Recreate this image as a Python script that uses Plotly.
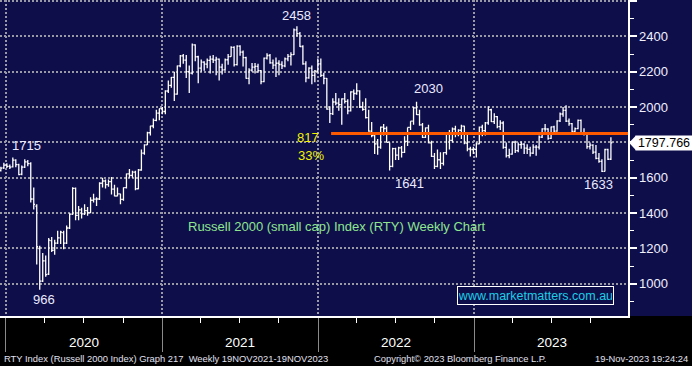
import pandas as pd
import plotly.graph_objects as go

# ---------------- data ----------------
opens = [1640,1656,1672,1665,1662,1700,1675,1620,1660,1690,
         1680,1480,1440,1200,1015,1130,1055,1245,1190,1230,
         1260,1290,1230,1316,1394,1540,1387,1419,1396,1414,
         1403,1473,1479,1480,1569,1582,1561,1578,1536,1497,
         1509,1478,1544,1622,1614,1632,1538,1644,1740,1786,
         1855,1893,1925,1966,1991,1975,2091,2123,2168,2073,
         2233,2290,2266,2201,2192,2352,2285,2221,2254,2243,
         2264,2271,2266,2271,2226,2211,2268,2286,2338,2240,
         2345,2311,2280,2163,2209,2226,2230,2206,2144,2277,
         2292,2250,2237,2248,2241,2233,2273,2287,2297,2437,
         2416,2343,2245,2165,2221,2180,2203,2245,2180,2162,
         1988,1963,2029,2023,2014,2046,2032,1979,2086,2077,
         2092,2001,1987,1940,1864,1839,1792,1773,1887,1879,
         1800,1665,1765,1728,1769,1744,1806,1885,1921,1996,
         1957,1899,1829,1883,1798,1721,1665,1702,1682,1742,
         1846,1812,1876,1849,1869,1892,1796,1763,1760,1761,
         1792,1887,1867,1911,1985,1918,1946,1890,1910,1772,
         1725,1734,1802,1754,1788,1791,1768,1761,1740,1774,
         1773,1830,1877,1876,1823,1888,1864,1922,1961,1982,
         1921,1906,1863,1878,1925,1848,1847,1776,1785,1745,
         1710,1693,1636,1760,1705]
highs = [1662,1685,1683,1675,1715,1705,1680,1670,1705,1700,
         1688,1545,1450,1215,1175,1160,1260,1265,1250,1300,
         1300,1300,1330,1400,1547,1545,1440,1430,1450,1435,
         1490,1510,1490,1575,1600,1590,1590,1605,1560,1545,
         1510,1545,1625,1650,1640,1640,1650,1760,1790,1860,
         1895,1935,1985,1992,2000,2095,2150,2170,2200,2235,
         2295,2300,2295,2235,2360,2355,2290,2270,2260,2275,
         2290,2295,2285,2275,2245,2275,2300,2345,2345,2350,
         2350,2320,2285,2220,2250,2250,2245,2210,2280,2305,
         2300,2270,2280,2265,2260,2280,2300,2310,2445,2458,
         2425,2350,2260,2225,2235,2210,2275,2275,2195,2165,
         2005,2050,2080,2050,2050,2080,2045,2090,2100,2135,
         2095,2030,2050,1985,1915,1850,1820,1890,1905,1890,
         1800,1770,1770,1775,1780,1835,1885,1920,2000,2030,
         1985,1910,1885,1900,1810,1740,1760,1745,1745,1850,
         1870,1885,1895,1875,1900,1895,1845,1775,1775,1800,
         1890,1900,1915,2005,1990,1965,1950,1925,1920,1800,
         1765,1805,1810,1800,1805,1795,1790,1775,1790,1785,
         1840,1880,1905,1880,1890,1895,1925,1970,2000,2010,
         1935,1910,1885,1930,1930,1880,1850,1800,1790,1785,
         1740,1705,1765,1765,1830]
lows = [1635,1650,1655,1650,1658,1660,1614,1615,1655,1665,
        1460,1420,1110,966,1010,1040,1050,1180,1165,1225,
        1225,1195,1225,1310,1390,1360,1360,1370,1390,1385,
        1400,1460,1440,1475,1545,1540,1550,1505,1495,1495,
        1450,1470,1540,1600,1600,1530,1535,1640,1730,1785,
        1840,1880,1920,1925,1960,1960,2080,2110,2035,2070,
        2225,2245,2165,2080,2185,2260,2135,2200,2205,2220,
        2190,2250,2180,2150,2185,2205,2240,2285,2230,2235,
        2290,2230,2160,2130,2200,2190,2195,2130,2140,2270,
        2245,2215,2170,2180,2215,2225,2260,2235,2295,2400,
        2340,2240,2140,2160,2130,2140,2195,2170,2130,1985,
        1910,1955,2010,1980,1900,2020,1960,1975,2040,2070,
        1995,1980,1935,1860,1830,1735,1730,1765,1840,1800,
        1641,1660,1700,1700,1715,1740,1780,1870,1900,1955,
        1895,1825,1825,1795,1718,1650,1660,1650,1670,1730,
        1760,1800,1830,1835,1820,1790,1750,1720,1735,1715,
        1790,1835,1840,1900,1915,1905,1880,1870,1765,1715,
        1710,1730,1740,1745,1765,1735,1735,1720,1735,1725,
        1760,1825,1860,1815,1820,1845,1860,1915,1945,1915,
        1895,1855,1845,1875,1845,1840,1765,1760,1735,1705,
        1685,1633,1635,1700,1700]
closes = [1655,1672,1665,1660,1700,1675,1618,1660,1690,1680,
          1480,1450,1210,1015,1130,1052,1247,1190,1230,1260,
          1293,1230,1316,1394,1540,1387,1419,1396,1414,1403,
          1473,1479,1480,1569,1582,1561,1578,1536,1497,1509,
          1478,1544,1622,1614,1632,1538,1644,1740,1786,1855,
          1893,1925,1966,1991,1975,2091,2123,2168,2073,2233,
          2290,2266,2201,2192,2352,2285,2221,2254,2243,2264,
          2271,2266,2271,2226,2211,2268,2286,2338,2240,2345,
          2311,2280,2163,2209,2226,2230,2206,2144,2277,2292,
          2250,2237,2248,2241,2233,2273,2287,2297,2437,2416,
          2343,2245,2165,2221,2180,2203,2245,2180,2162,1988,
          1963,2029,2023,2014,2046,2032,1979,2086,2077,2092,
          2001,1987,1940,1864,1839,1792,1773,1887,1879,1800,
          1665,1765,1728,1769,1744,1806,1885,1921,1996,1957,
          1899,1829,1883,1798,1721,1665,1702,1682,1742,1846,
          1812,1876,1849,1869,1892,1796,1763,1760,1761,1792,
          1887,1867,1911,1985,1918,1946,1890,1910,1772,1725,
          1734,1802,1754,1788,1791,1768,1761,1740,1774,1773,
          1830,1877,1876,1823,1888,1864,1922,1961,1982,1921,
          1906,1863,1878,1925,1848,1847,1776,1785,1745,1710,
          1693,1636,1760,1705,1797.766]
week_dates = pd.date_range("2019-12-20", periods=len(closes), freq="W-FRI")

y_tick_vals = [1000, 1200, 1400, 1600, 1800, 2000, 2200, 2400, 2600]
y_tick_text = ["1000", "1200", "1400", "1600", "", "2000", "2200", "2400", ""]
year_labels = ["2020", "2021", "2022", "2023"]
year_mid = ["2020-07-01", "2021-07-01", "2022-07-01", "2023-07-01"]

peak_labels = [("1715", "2020-02-18", 1782), ("966", "2020-03-29", 909),
               ("2458", "2021-11-11", 2516), ("2030", "2022-09-15", 2103),
               ("1641", "2022-08-03", 1565), ("1633", "2023-10-19", 1560)]
resistance = 1850
drop_text = ["817", "33%"]

# ---------------- styling ----------------
W, H = 692, 366
PLOT_R = 628
PLOT_B = 316
NAVY = "#0e0e4a"
GRID = "#9a9aa6"
FONT = "Liberation Sans, Arial, sans-serif"


def px_x(p):
    return p / W


def px_y(p):
    return 1 - p / H


fig = go.Figure()
fig.add_trace(go.Ohlc(
    x=week_dates, open=opens, high=highs, low=lows, close=closes,
    increasing=dict(line=dict(color="white", width=1.3)),
    decreasing=dict(line=dict(color="white", width=1.3)),
    tickwidth=0.45, showlegend=False, hoverinfo="skip"))

x_range = ["2019-12-18", "2023-12-27"]

fig.update_layout(
    template="none",
    width=W, height=H, margin=dict(l=0, r=0, t=0, b=0, pad=0, autoexpand=False),
    paper_bgcolor="black", plot_bgcolor=NAVY,
    font=dict(family=FONT, color="white"),
    showlegend=False,
    xaxis=dict(
        domain=[0, PLOT_R / W], type="date", range=x_range, automargin=False,
        rangeslider=dict(visible=False),
        tick0="2020-01-01", dtick="M12", ticks="outside", ticklen=34,
        tickcolor="#8a8a8a", tickwidth=1, showticklabels=False,
        showgrid=True, gridcolor=GRID, gridwidth=2, griddash="2px,2px",
        showline=True, linecolor="white", linewidth=1.5,
        minor=dict(dtick="M3", tick0="2020-01-01", ticks="outside", ticklen=5,
                   tickcolor="white", tickwidth=1, showgrid=False),
        zeroline=False, fixedrange=True),
    yaxis=dict(
        domain=[1 - PLOT_B / H, 1], side="right", range=[818, 2606], automargin=False,
        tickvals=y_tick_vals, ticktext=y_tick_text,
        ticks="outside", ticklen=7, tickwidth=2, tickcolor="white",
        tickfont=dict(size=13, color="#f0f0ff", family=FONT),
        showgrid=True, gridcolor=GRID, gridwidth=2, griddash="2px,2px",
        showline=True, linecolor="white", linewidth=1.5,
        minor=dict(dtick=100, ticks="outside", ticklen=4, tickcolor="white",
                   tickwidth=1, showgrid=False),
        zeroline=False, fixedrange=True),
)

# right axis navy region
fig.add_shape(type="rect", xref="paper", yref="paper",
              x0=px_x(PLOT_R), x1=1, y0=px_y(PLOT_B), y1=1,
              fillcolor=NAVY, line_width=0, layer="below")

# resistance line
fig.add_shape(type="line", xref="x", yref="y",
              x0="2022-01-31", x1=x_range[1], y0=resistance, y1=resistance,
              line=dict(color="#ff5a00", width=3))


def label(x, y, text, size, color, xref="paper", yref="paper", **kw):
    args = dict(x=x, y=y, xref=xref, yref=yref, text=text, showarrow=False,
                xanchor="center", yanchor="middle",
                font=dict(size=size, color=color, family=FONT))
    args.update(kw)
    fig.add_annotation(**args)


# peak / trough labels
for txt, d, v in peak_labels:
    label(d, v, txt, 13, "#eaeaff", xref="x", yref="y")

# fall annotation (yellow)
label(px_x(308), px_y(137), drop_text[0], 13, "#f2f200")
label(px_x(310.5), px_y(155), drop_text[1], 13, "#f2f200")

# title in chart
label(px_x(337), px_y(226), "Russell 2000 (small cap) Index (RTY) Weekly Chart",
      13, "#8fe68f")

# website box
label(px_x(535.5), px_y(295.5), "www.marketmatters.com.au", 12.5, "#1ccfe6",
      bordercolor="white", borderwidth=1, borderpad=1, bgcolor=NAVY,
      width=153, height=15)

# last price tag (arrow + box)
last_v = closes[-1]
fig.add_shape(type="path", xref="paper", yref="y", layer="above",
              path=(f"M {px_x(629)},{last_v} L {px_x(636)},{last_v+42} "
                    f"L {px_x(636)},{last_v-42} Z"),
              fillcolor="white", line=dict(color="white", width=0))
label(px_x(664), last_v, f"{last_v:.3f}", 12.5, "black", yref="y",
      bgcolor="white", width=56, height=14, borderpad=0)

# year labels
for lab, d in zip(year_labels, year_mid):
    label(d, px_y(342), lab, 13.5, "white", xref="x")

# footer
foot_y = px_y(358)
label(px_x(2), foot_y, "RTY Index (Russell 2000 Index) Graph 217  Weekly 19NOV2021-19NOV2023",
      9.4, "#e0e0f0", xanchor="left")
label(px_x(460), foot_y, "Copyright\u00a9 2023 Bloomberg Finance L.P.", 9.4, "#e0e0f0")
label(px_x(690), foot_y, "19-Nov-2023 19:24:24", 9.4, "#e0e0f0", xanchor="right")

fig.write_html("out.html", config={"displayModeBar": False, "staticPlot": True},
               post_script="document.body.style.margin='0';")
